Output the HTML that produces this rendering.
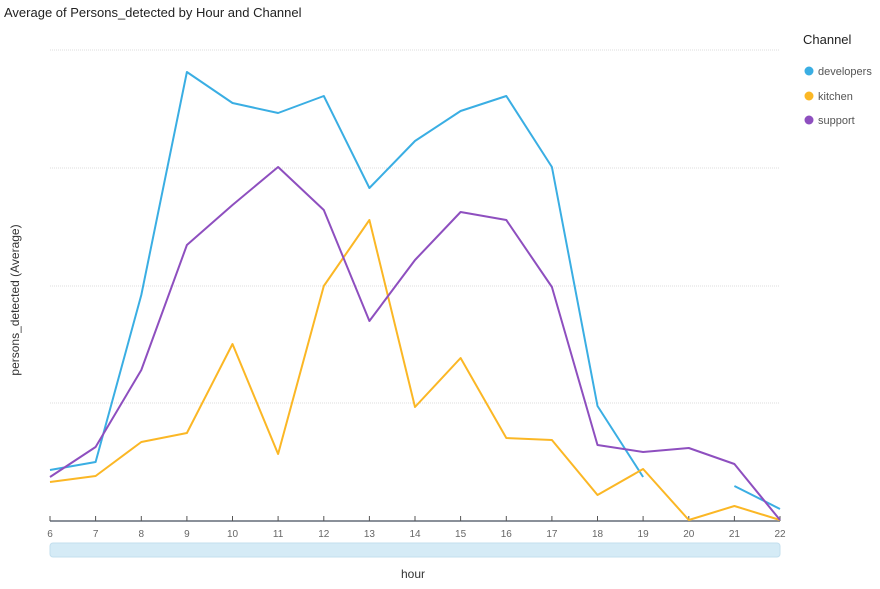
<!DOCTYPE html>
<html><head><meta charset="utf-8"><style>
body{margin:0;background:#fff;width:880px;height:584px;overflow:hidden;font-family:"Liberation Sans",sans-serif}
</style></head><body>
<svg width="880" height="584" xmlns="http://www.w3.org/2000/svg" font-family="Liberation Sans, sans-serif">
<text x="4" y="17" font-size="13" fill="#222">Average of Persons_detected by Hour and Channel</text>
<g stroke="#ddd" stroke-dasharray="1,1">
<line x1="50" y1="50" x2="780" y2="50"/><line x1="50" y1="168" x2="780" y2="168"/>
<line x1="50" y1="286" x2="780" y2="286"/><line x1="50" y1="403" x2="780" y2="403"/>
</g>
<line x1="50" y1="521" x2="780" y2="521" stroke="#8a9099" stroke-width="2"/>
<g stroke="#555" stroke-width="1">
<line x1="50" y1="516" x2="50" y2="521"/><line x1="95.6" y1="516" x2="95.6" y2="521"/><line x1="141.3" y1="516" x2="141.3" y2="521"/><line x1="186.9" y1="516" x2="186.9" y2="521"/><line x1="232.5" y1="516" x2="232.5" y2="521"/><line x1="278.1" y1="516" x2="278.1" y2="521"/><line x1="323.8" y1="516" x2="323.8" y2="521"/><line x1="369.4" y1="516" x2="369.4" y2="521"/><line x1="415" y1="516" x2="415" y2="521"/><line x1="460.6" y1="516" x2="460.6" y2="521"/><line x1="506.3" y1="516" x2="506.3" y2="521"/><line x1="551.9" y1="516" x2="551.9" y2="521"/><line x1="597.5" y1="516" x2="597.5" y2="521"/><line x1="643.1" y1="516" x2="643.1" y2="521"/><line x1="688.8" y1="516" x2="688.8" y2="521"/><line x1="734.4" y1="516" x2="734.4" y2="521"/><line x1="780" y1="516" x2="780" y2="521"/>
</g>
<g font-size="10" fill="#666" text-anchor="middle">
<text x="50" y="537">6</text><text x="95.6" y="537">7</text><text x="141.3" y="537">8</text><text x="186.9" y="537">9</text><text x="232.5" y="537">10</text><text x="278.1" y="537">11</text><text x="323.8" y="537">12</text><text x="369.4" y="537">13</text><text x="415" y="537">14</text><text x="460.6" y="537">15</text><text x="506.3" y="537">16</text><text x="551.9" y="537">17</text><text x="597.5" y="537">18</text><text x="643.1" y="537">19</text><text x="688.8" y="537">20</text><text x="734.4" y="537">21</text><text x="780" y="537">22</text>
</g>
<rect x="50" y="543" width="730" height="14" rx="3" fill="#d5ebf6" stroke="#c3dfee"/>
<text x="413" y="578" font-size="12" fill="#333" text-anchor="middle">hour</text>
<text transform="translate(19,300) rotate(-90)" font-size="12" fill="#333" text-anchor="middle">persons_detected (Average)</text>
<g fill="none" stroke-width="2" stroke-linejoin="round">
<polyline stroke="#3aaee3" points="50,470 95.6,462 141.3,295 186.9,72 232.5,103 278.1,113 323.8,96 369.4,188 415,141 460.6,111 506.3,96 551.9,167 597.5,406 643.1,477"/>
<polyline stroke="#3aaee3" points="734.4,486 780,509"/>
<polyline stroke="#fbb725" points="50,482 95.6,476 141.3,442 186.9,433 232.5,344 278.1,454 323.8,286 369.4,220 415,407 460.6,358 506.3,438 551.9,440 597.5,495 643.1,469 688.8,520 734.4,506 780,520"/>
<polyline stroke="#8e4fbf" points="50,477 95.6,447 141.3,370 186.9,245 232.5,205 278.1,167 323.8,210 369.4,321 415,260 460.6,212 506.3,220 551.9,287 597.5,445 643.1,452 688.8,448 734.4,464 780,520"/>
</g>
<text x="803" y="44" font-size="13" fill="#222">Channel</text>
<circle cx="809" cy="71" r="4.5" fill="#3aaee3"/><text x="818" y="75" font-size="11" fill="#555">developers</text>
<circle cx="809" cy="96" r="4.5" fill="#fbb725"/><text x="818" y="100" font-size="11" fill="#555">kitchen</text>
<circle cx="809" cy="120" r="4.5" fill="#8e4fbf"/><text x="818" y="124" font-size="11" fill="#555">support</text>
</svg>
</body></html>
